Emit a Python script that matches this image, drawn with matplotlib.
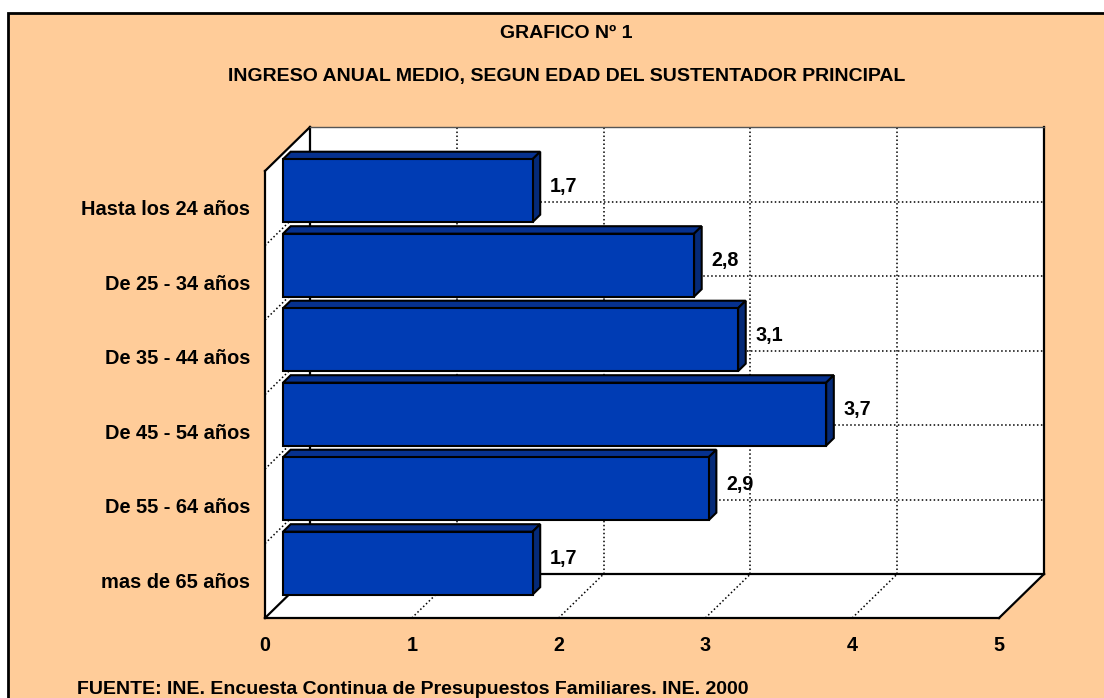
import matplotlib.pyplot as plt
from matplotlib.patches import Polygon, Rectangle

categories = ["Hasta los 24 años", "De 25 - 34 años", "De 35 - 44 años",
              "De 45 - 54 años", "De 55 - 64 años", "mas de 65 años"]
values = [1.7, 2.8, 3.1, 3.7, 2.9, 1.7]
value_labels = ["1,7", "2,8", "3,1", "3,7", "2,9", "1,7"]
x_ticks = [0, 1, 2, 3, 4, 5]

title1 = "GRAFICO Nº 1"
title2 = "INGRESO ANUAL MEDIO, SEGUN EDAD DEL SUSTENTADOR PRINCIPAL"
source = "FUENTE: INE. Encuesta Continua de Presupuestos Familiares. INE. 2000"

plt.rcParams["font.family"] = ["Liberation Sans", "DejaVu Sans"]
plt.rcParams["font.weight"] = "bold"

PEACH = "#ffcc99"
FRONT = "#003cb4"
TOP = "#06318f"
SIDE = "#052a78"

# fake 3d: depth d in [0, 1] shifts a point right and up
DX, DY = 0.3065, 0.59
BAR_D0, BAR_D1 = 0.40, 0.57
BAR_H = 0.845

n = len(categories)
vmax = x_ticks[-1]


def proj(v, r, d):
    return (v + DX * d, r + DY * d)


W, H = 1104, 698
fig = plt.figure(figsize=(W / 100, H / 100), dpi=100, facecolor="white")
fig.add_artist(Rectangle((8 / W, -0.01), 1.1, 1 - 13 / H + 0.01,
                         transform=fig.transFigure, facecolor=PEACH,
                         edgecolor="black", lw=2, zorder=-10))

ax = fig.add_axes([265 / W, 1 - 618 / H, (999 - 265) / W, (618 - 171) / H])
ax.set_xlim(0, vmax)
ax.set_ylim(0, n)
ax.axis("off")


def poly(pts, **kw):
    p = Polygon([proj(*q) for q in pts], closed=True, clip_on=False, **kw)
    ax.add_patch(p)


def line(a, b, **kw):
    pa, pb = proj(*a), proj(*b)
    ax.plot([pa[0], pb[0]], [pa[1], pb[1]], clip_on=False,
            solid_capstyle="projecting", **kw)


# walls
poly([(0, 0, 1), (vmax, 0, 1), (vmax, n, 1), (0, n, 1)], facecolor="white", edgecolor="none", zorder=1)
poly([(0, 0, 0), (0, 0, 1), (0, n, 1), (0, n, 0)], facecolor="white", edgecolor="none", zorder=1)
poly([(0, 0, 0), (vmax, 0, 0), (vmax, 0, 1), (0, 0, 1)], facecolor="white", edgecolor="none", zorder=1)

dot = dict(color="black", lw=1.1, linestyle=(0, (1, 1.6)), zorder=2)
for v in x_ticks[1:-1]:
    line((v, 0, 1), (v, n, 1), **dot)
    line((v, 0, 0), (v, 0, 1), **dot)
for r in range(1, n):
    line((0, r, 1), (vmax, r, 1), **dot)
    line((0, r, 0), (0, r, 1), **dot)

solid = dict(color="black", lw=1.6, zorder=3)
line((0, 0, 0), (0, n, 0), **solid)
line((0, n, 0), (0, n, 1), **solid)
line((0, 0, 0), (vmax, 0, 0), **solid)
line((vmax, 0, 0), (vmax, 0, 1), **solid)
line((0, 0, 0), (0, 0, 1), **solid)
line((0, 0, 1), (vmax, 0, 1), **solid)
line((vmax, 0, 1), (vmax, n, 1), **solid)
line((0, 0, 1), (0, n, 1), **solid)
line((0, n, 1), (vmax, n, 1), color="#555555", lw=1.0, zorder=3)

# bars
edge = dict(edgecolor="black", lw=1.5, joinstyle="miter")
for i, (cat, val, lab) in enumerate(zip(categories, values, value_labels)):
    rc = n - i - 0.5
    r0, r1 = rc - BAR_H / 2, rc + BAR_H / 2
    z = 5 + i
    poly([(0, r1, BAR_D0), (val, r1, BAR_D0), (val, r1, BAR_D1), (0, r1, BAR_D1)],
         facecolor=TOP, zorder=z, **edge)
    poly([(val, r0, BAR_D0), (val, r0, BAR_D1), (val, r1, BAR_D1), (val, r1, BAR_D0)],
         facecolor=SIDE, zorder=z, **edge)
    poly([(0, r0, BAR_D0), (val, r0, BAR_D0), (val, r1, BAR_D0), (0, r1, BAR_D0)],
         facecolor=FRONT, zorder=z, **edge)
    tx, ty = proj(val + 0.12, rc + 0.06, BAR_D0)
    ax.text(tx, ty, lab, ha="left", va="center", fontsize=14.2, fontweight="bold", zorder=20)
    ax.text(-0.102, rc - 0.02, cat, ha="right", va="center", fontsize=14.4,
            fontweight="bold", clip_on=False)

for v in x_ticks:
    ax.text(v, -0.37, str(v), ha="center", va="center", fontsize=14.2, fontweight="bold")

fig.text(566 / W, 1 - 33 / H, title1, ha="center", va="center", fontsize=14, fontweight="bold")
fig.text(567 / W, 1 - 76 / H, title2, ha="center", va="center", fontsize=14, fontweight="bold")
fig.text(77 / W, 1 - 689 / H, source, ha="left", va="center", fontsize=14, fontweight="bold")

fig.savefig("out.png", dpi=100, facecolor=fig.get_facecolor())
